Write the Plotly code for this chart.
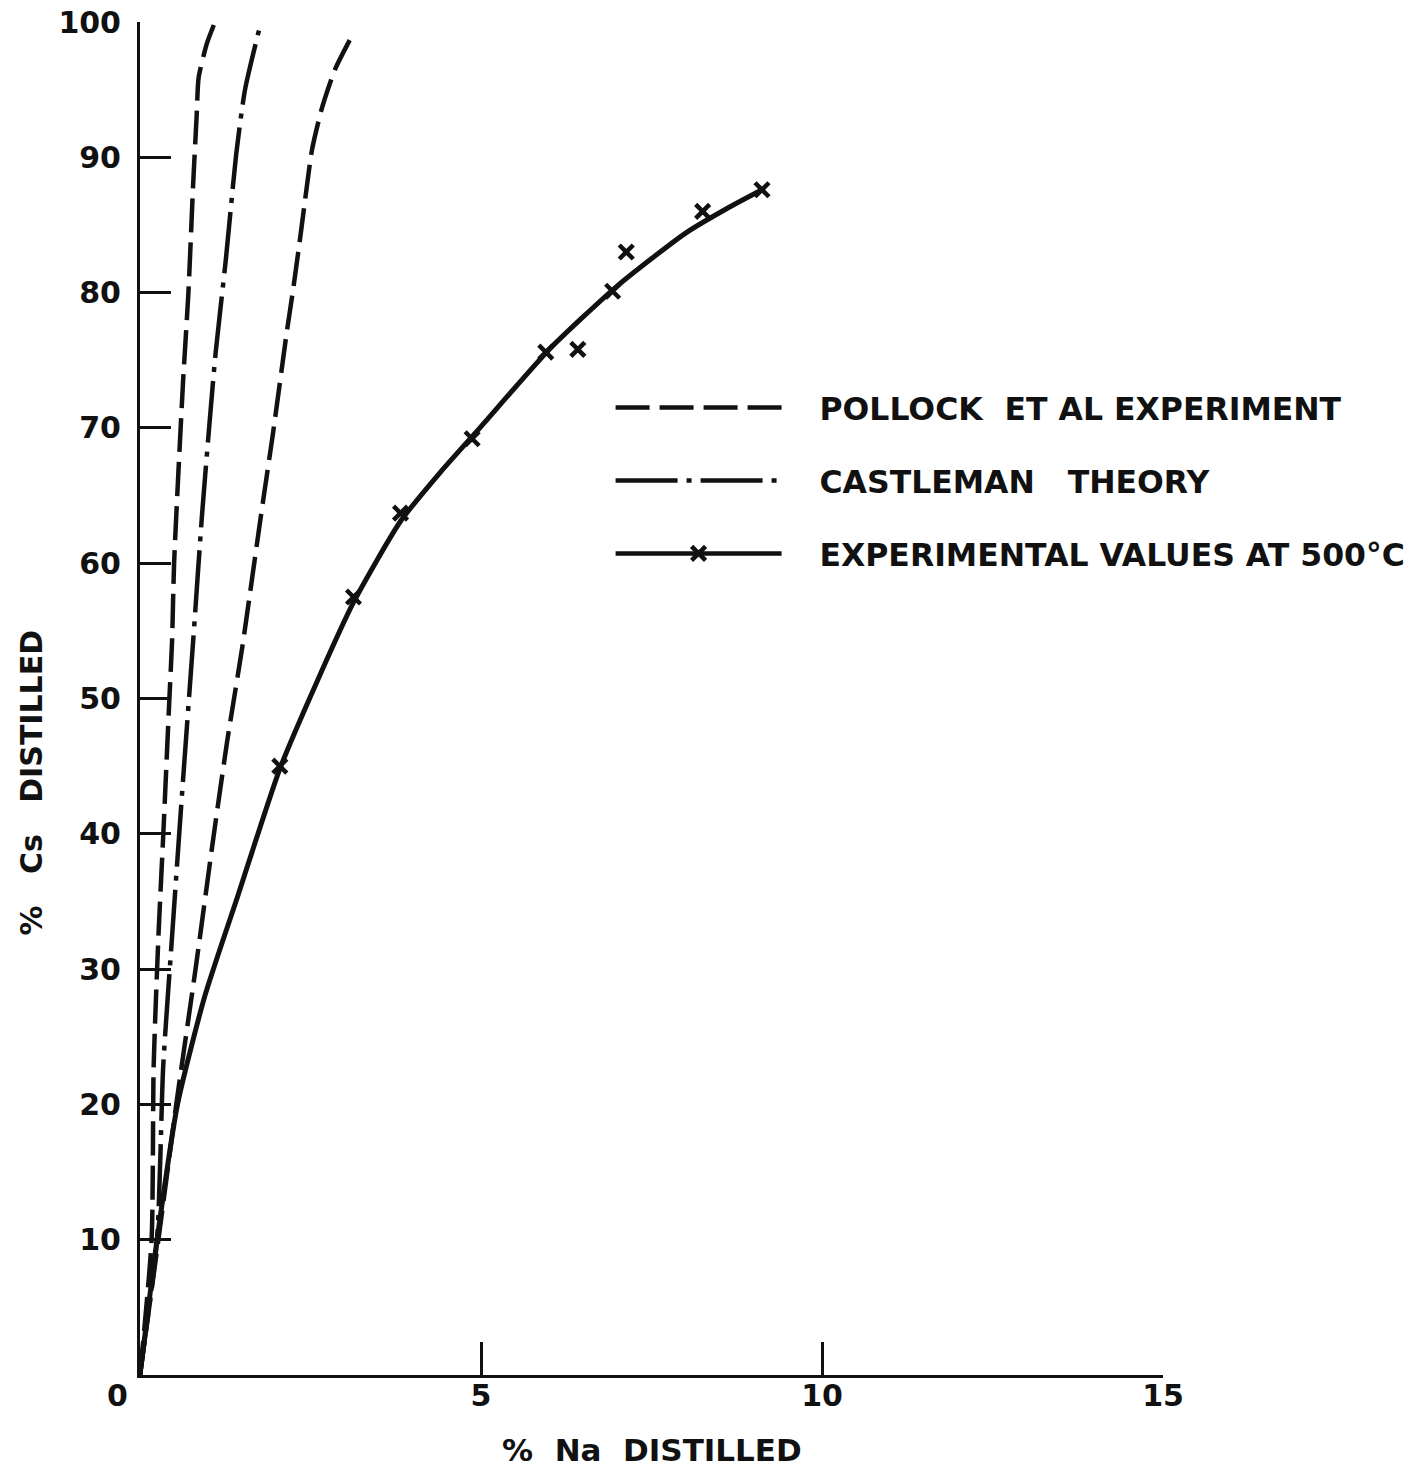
import plotly.graph_objects as go

# ---------------- data ----------------
# Experimental values at 500 °C  (% Na distilled, % Cs distilled)
exp_na = [2.05, 3.13, 3.82, 4.87, 5.95, 6.42, 6.93, 7.13, 8.25, 9.12]
exp_cs = [45.0, 57.5, 63.7, 69.2, 75.6, 75.8, 80.1, 83.0, 86.0, 87.6]

# Smooth curve drawn through the experimental values
fit_na = [0, 0.25, 0.55, 0.95, 1.44, 2.05, 2.6, 3.13, 3.82, 4.4, 5.0, 6.0, 7.0, 8.0, 8.6, 9.12]
fit_cs = [0, 10.0, 20.0, 28.0, 35.5, 44.8, 51.3, 57.1, 63.1, 66.7, 70.1, 75.8, 80.5, 84.4, 86.2, 87.6]

# Pollock et al experiment (two dashed curves)
pol1_na = [0, 0.17, 0.20, 0.27, 0.34, 0.43, 0.47, 0.50, 0.63, 0.71, 0.78, 0.83, 0.86, 0.98, 1.10]
pol1_cs = [0, 10.0, 22.8, 32.4, 39.8, 49.9, 54.2, 60.0, 73.3, 80.0, 88.1, 93.0, 95.9, 98.4, 100.0]

pol2_na = [0, 0.27, 0.54, 0.82, 1.07, 1.28, 1.50, 1.77, 1.95, 2.15, 2.25, 2.35, 2.44, 2.52, 2.66, 2.86, 3.10]
pol2_cs = [0, 10.0, 20.3, 30.2, 39.5, 46.9, 53.8, 63.4, 69.6, 77.0, 80.4, 84.1, 87.6, 90.5, 93.5, 96.5, 98.9]

# Castleman theory (dash-dot curve)
cas_na = [0, 0.25, 0.34, 0.47, 0.62, 0.78, 0.91, 1.01, 1.11, 1.26, 1.41, 1.54, 1.77]
cas_cs = [0, 10.0, 22.8, 32.4, 43.2, 54.3, 63.6, 69.8, 75.6, 82.5, 90.2, 95.0, 99.9]

x_ticks = [5, 10, 15]
x_ticktext = ["5", "10", "15"]
y_ticks = [10, 20, 30, 40, 50, 60, 70, 80, 90, 100]
y_ticktext = ["10", "20", "30", "40", "50", "60", "70", "80", "90", "100"]

NB = "\u00a0"
legend_names = [
    NB * 3 + "POLLOCK" + NB * 2 + "ET AL EXPERIMENT",
    NB * 3 + "CASTLEMAN" + NB * 3 + "THEORY",
    NB * 3 + "EXPERIMENTAL VALUES AT 500\u00b0C",
]
x_title = "%" + NB * 2 + "Na" + NB * 2 + "DISTILLED"
y_title = "%" + NB * 3 + "Cs" + NB * 3 + "DISTILLED"

# ---------------- figure ----------------
INK = "#111111"
FONT = "DejaVu Sans"
DASH = "34px,10px"
DASHDOT = "62px,9px,5px,9px"

fig = go.Figure()

fig.add_trace(go.Scatter(
    x=pol1_na, y=pol1_cs, mode="lines", name=legend_names[0], legendgroup="a",
    line=dict(color=INK, width=4.5, dash=DASH, shape="spline", smoothing=0.6),
))
fig.add_trace(go.Scatter(
    x=pol2_na, y=pol2_cs, mode="lines", name=legend_names[0], legendgroup="a", showlegend=False,
    line=dict(color=INK, width=4.5, dash=DASH, shape="spline", smoothing=0.6),
))
fig.add_trace(go.Scatter(
    x=cas_na, y=cas_cs, mode="lines", name=legend_names[1], legendgroup="b",
    line=dict(color=INK, width=4.5, dash=DASHDOT, shape="spline", smoothing=0.6),
))
fig.add_trace(go.Scatter(
    x=fit_na, y=fit_cs, mode="lines", showlegend=False,
    line=dict(color=INK, width=5, shape="spline", smoothing=0.6),
))
fig.add_trace(go.Scatter(
    x=exp_na, y=exp_cs, mode="markers", showlegend=False,
    marker=dict(symbol="x-thin", size=14, line=dict(color=INK, width=4.5), color=INK),
))
# legend-only entry for the experimental values (line with a cross)
fig.add_trace(go.Scatter(
    x=[None], y=[None], mode="lines+markers", name=legend_names[2], legendgroup="c",
    line=dict(color=INK, width=4.5),
    marker=dict(symbol="x-thin", size=14, line=dict(color=INK, width=4.5), color=INK),
))

tick_font = dict(family=FONT, size=30, color=INK, weight="bold")
xtitle_font = dict(family=FONT, size=31, color=INK, weight="bold")
ytitle_font = dict(family=FONT, size=30, color=INK, weight="bold")

fig.update_layout(
    width=1421, height=1473,
    margin=dict(l=140, r=258, t=22, b=98, autoexpand=False),
    paper_bgcolor="white", plot_bgcolor="white",
    showlegend=True,
    legend=dict(
        x=0.46, y=0.735, xanchor="left", yanchor="top",
        font=dict(family=FONT, size=31.5, color=INK, weight="bold"),
        itemwidth=166, tracegroupgap=29, bgcolor="rgba(0,0,0,0)",
        traceorder="grouped",
    ),
    xaxis=dict(
        range=[0, 15], showgrid=False, zeroline=False,
        showline=True, linecolor=INK, linewidth=3,
        tickmode="array", tickvals=x_ticks, ticktext=x_ticktext,
        ticks="inside", ticklen=33, tickwidth=3, tickcolor=INK,
        tickfont=tick_font, ticklabelstandoff=-8,
    ),
    yaxis=dict(
        range=[0, 100], showgrid=False, zeroline=False,
        showline=True, linecolor=INK, linewidth=3,
        tickmode="array", tickvals=y_ticks, ticktext=y_ticktext,
        ticks="inside", ticklen=31, tickwidth=3, tickcolor=INK,
        tickfont=tick_font, ticklabelstandoff=10,
    ),
    annotations=[
        dict(text="0", xref="x", yref="y", x=0, y=0, xshift=-23, yshift=-20,
             showarrow=False, font=tick_font),
        dict(text=x_title, xref="paper", yref="paper", x=0.5, y=0, yshift=-75,
             showarrow=False, font=xtitle_font, yanchor="middle"),
        dict(text=y_title, xref="paper", yref="paper", x=0, y=0.438, xshift=-109,
             textangle=-90, showarrow=False, font=ytitle_font, xanchor="center"),
    ],
)

fig.write_html("out.html")
